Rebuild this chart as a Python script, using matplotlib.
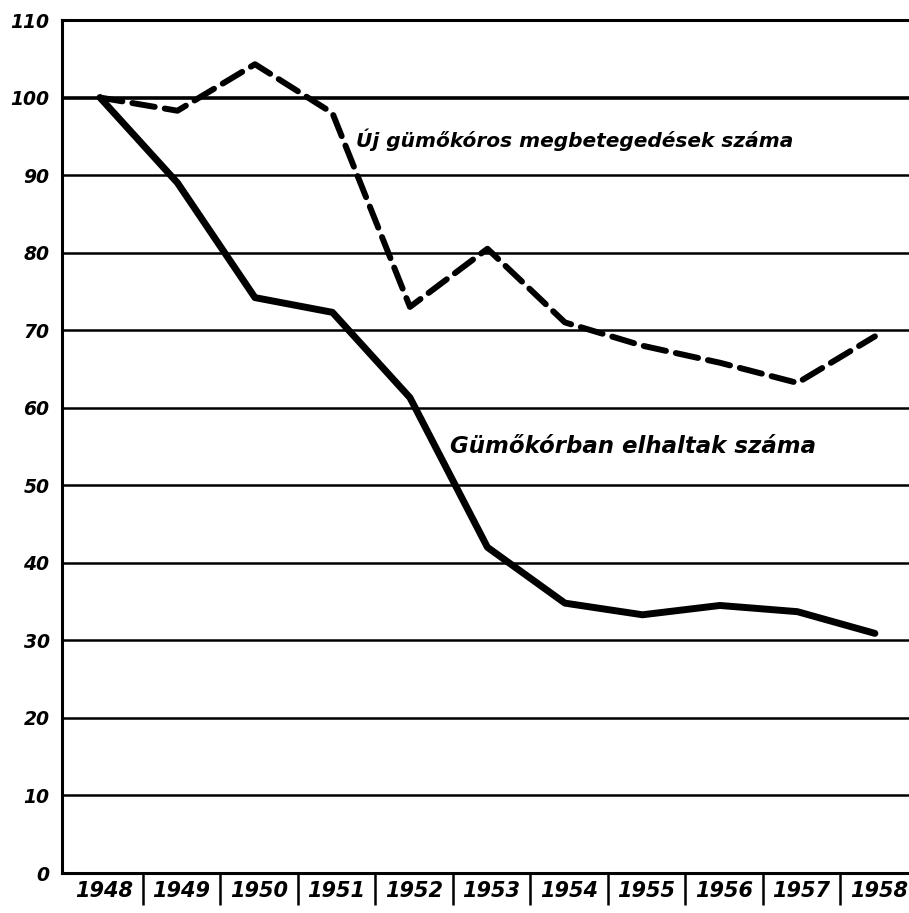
import numpy as np
import matplotlib.pyplot as plt

years = ['1948', '1949', '1950', '1951', '1952', '1953', '1954', '1955', '1956', '1957', '1958']
uj_esetek = [100, 98.3, 104.3, 98, 73, 80.5, 71, 68, 65.8, 63.2, 69.2]
halalozas = [100, 89, 74.2, 72.3, 61.3, 42, 34.8, 33.3, 34.5, 33.7, 30.9]
y_ticks = [0, 10, 20, 30, 40, 50, 60, 70, 80, 90, 100, 110]

label_uj = 'Új gümőkóros megbetegedések száma'
label_hal = 'Gümőkórban elhaltak száma'


def draw():
    fig = plt.figure(figsize=(9.09, 9.13), dpi=100)
    ax = fig.add_axes([62 / 909, 40 / 913, 1 - 62 / 909, 853 / 913])
    x = np.arange(len(years))

    # horizontal rules
    for v in y_ticks[1:-1]:
        lw = 2.6 if v == 100 else 1.8
        ax.axhline(v, color='black', lw=lw, zorder=1)

    ax.plot(x, halalozas, color='black', lw=5, solid_joinstyle='round',
            solid_capstyle='round', zorder=3)
    ax.plot(x, uj_esetek, color='black', lw=4.3, dashes=(3.8, 1.7),
            dash_capstyle='round', zorder=3)

    ax.set_xlim(-0.49, 10.44)
    ax.set_ylim(0, 110)

    for s in ['left', 'top', 'bottom']:
        ax.spines[s].set_linewidth(2.2)
    ax.spines['right'].set_visible(False)

    ax.set_yticks(y_ticks)
    ax.set_yticklabels([str(v) for v in y_ticks])
    ax.tick_params(axis='y', length=0, pad=9)
    for t in ax.get_yticklabels():
        t.set_fontsize(13.5)
        t.set_fontweight('bold')
        t.set_fontstyle('italic')

    ax.set_xticks(x + 0.05)
    ax.set_xticklabels(years)
    ax.set_xticks(np.arange(len(years) - 1) + 0.55, minor=True)
    ax.tick_params(axis='x', which='major', length=0, pad=6)
    ax.tick_params(axis='x', which='minor', length=23, width=1.8,
                   direction='out')
    for t in ax.get_xticklabels():
        t.set_fontsize(15)
        t.set_fontweight('bold')
        t.set_fontstyle('italic')

    ax.text(3.3, 94.5, label_uj, fontsize=14.5, fontweight='bold',
            fontstyle='italic', va='center', ha='left')
    ax.text(4.52, 55, label_hal, fontsize=16.5, fontweight='bold',
            fontstyle='italic', va='center', ha='left')

    fig.savefig('out.png', dpi=100)


draw()
